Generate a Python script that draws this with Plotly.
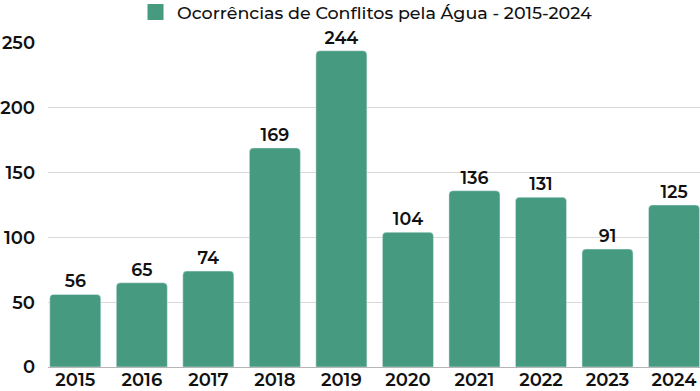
import plotly.graph_objects as go

years = ["2015", "2016", "2017", "2018", "2019", "2020", "2021", "2022", "2023", "2024"]
values = [56, 65, 74, 169, 244, 104, 136, 131, 91, 125]
series_name = "Ocorrências de Conflitos pela Água - 2015-2024"
y_ticks = [0, 50, 100, 150, 200, 250]

color = "#469a7f"
text_color = "#111111"
font_family = "Montserrat, Lato, 'Open Sans', sans-serif"

fig = go.Figure()
fig.add_trace(go.Bar(
    x=years, y=values, name=series_name,
    marker=dict(color=color, cornerradius=4),
    text=[str(v) for v in values], textposition="outside",
    textfont=dict(size=17.5, color=text_color, family=font_family, weight=600),
    cliponaxis=False,
    showlegend=False,
))
# legend entry with a larger square swatch
fig.add_trace(go.Scatter(
    x=[None], y=[None], mode="markers", name=series_name,
    marker=dict(symbol="square", size=20, color=color),
    showlegend=True,
))

fig.update_layout(
    width=700, height=391,
    margin=dict(l=48, r=0, t=43, b=24, autoexpand=False),
    paper_bgcolor="white", plot_bgcolor="white",
    font=dict(family=font_family, size=18, color=text_color, weight=600),
    bargap=0.233,
    showlegend=True,
    legend=dict(orientation="h", x=0.487, xanchor="center", y=1.095, yanchor="middle",
                font=dict(size=17.5, color=text_color, weight=500),
                bgcolor="rgba(0,0,0,0)", itemwidth=33),
    xaxis=dict(range=[-0.41, 9.39], tickfont=dict(size=18, weight=600),
               showgrid=False, ticks="", showline=False, automargin=False),
    yaxis=dict(range=[0, 250], tickvals=y_ticks, showgrid=True, gridcolor="#d9d9d9",
               zeroline=True, zerolinecolor="#b5b5b5", zerolinewidth=1,
               tickfont=dict(size=18, weight=600), ticks="", ticklabelstandoff=12,
               automargin=False),
)

fig.write_html("out.html", config={"displayModeBar": False},
               post_script="document.body.style.margin='0';")
